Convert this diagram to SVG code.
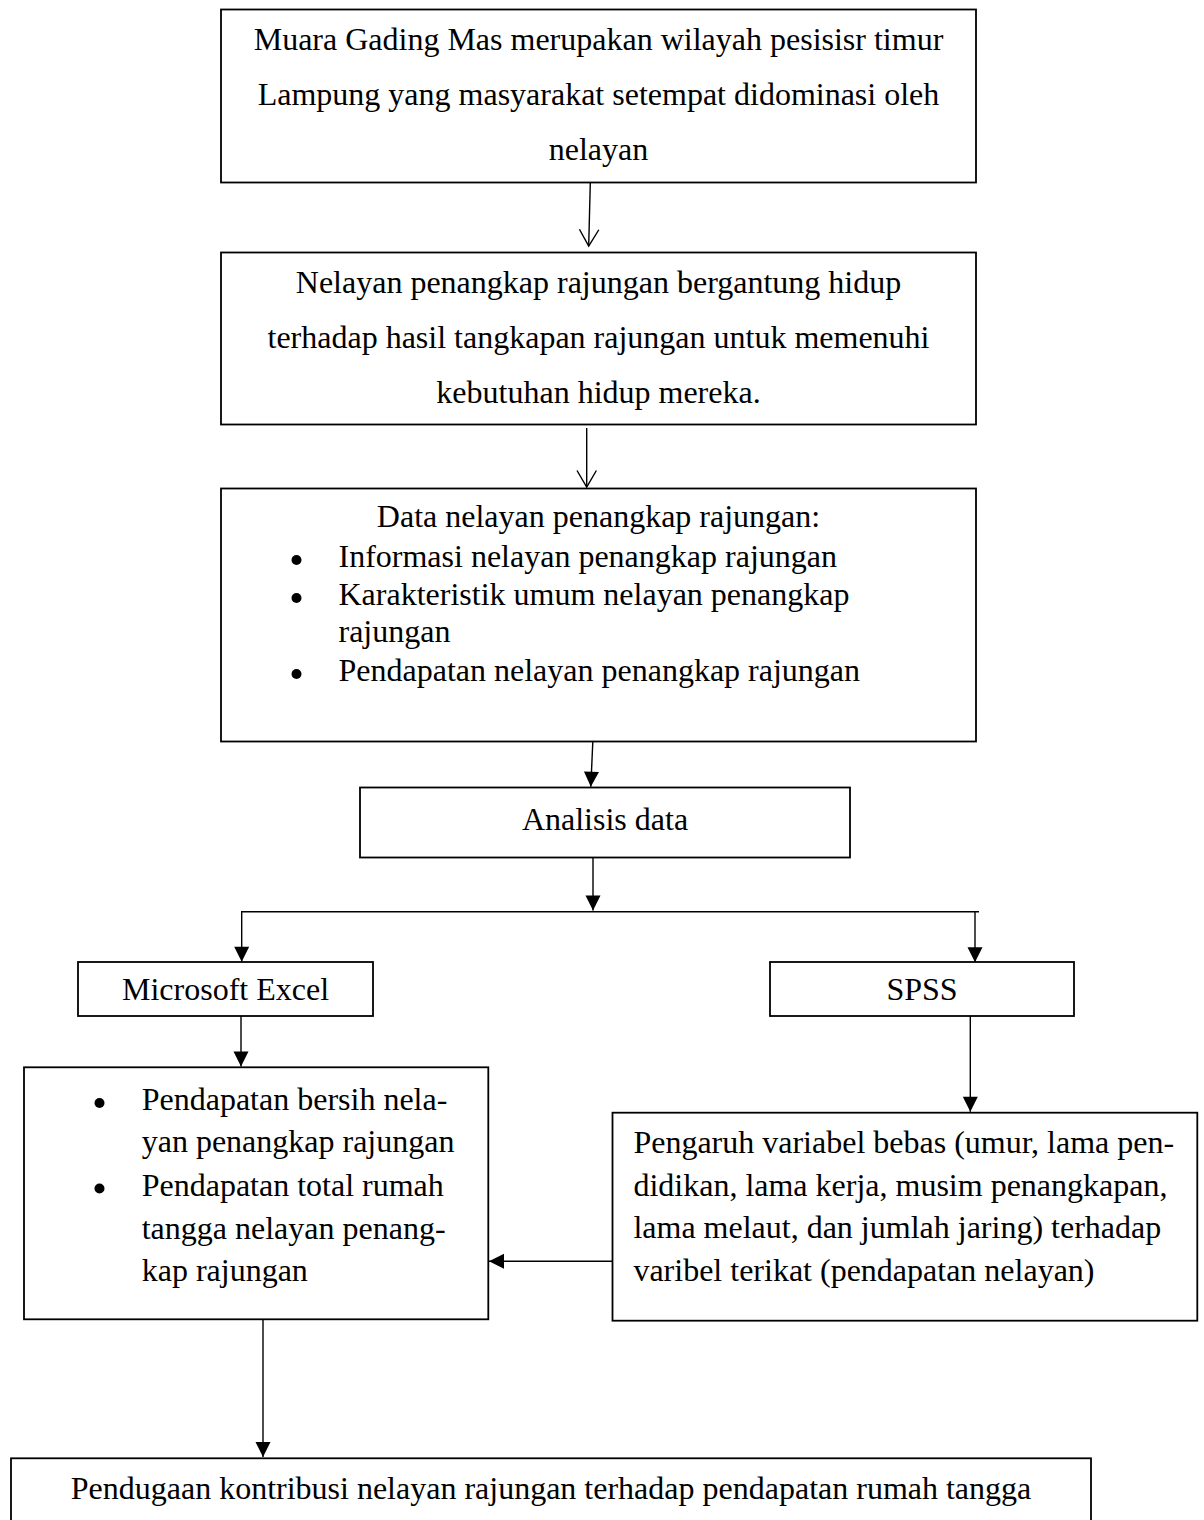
<svg xmlns="http://www.w3.org/2000/svg" width="1204" height="1520" viewBox="0 0 1204 1520">
<style>
.box{fill:#fff;stroke:#000;stroke-width:1.8}
.t{font-family:"Liberation Serif","Times New Roman",serif;font-size:32px;fill:#000}
.m{text-anchor:middle}
.conn line{stroke:#000;stroke-width:1.4;fill:none}
.dot{fill:#000}
</style>
<defs>
<marker id="open" markerUnits="userSpaceOnUse" viewBox="0 0 20 20" markerWidth="20" markerHeight="20" refX="16.5" refY="10" orient="auto" overflow="visible">
<path d="M0,0.3 L16.5,10 L0,19.7" fill="none" stroke="#000" stroke-width="1.4"/>
</marker>
<marker id="fill" markerUnits="userSpaceOnUse" viewBox="0 0 15 15" markerWidth="15" markerHeight="15" refX="15" refY="7.5" orient="auto" overflow="visible">
<path d="M0,0 L15,7.5 L0,15 Z" fill="#000"/>
</marker>
</defs>
<rect width="1204" height="1520" fill="#fff"/>

<g class="conn" id="connectors">
<line x1="590.3" y1="182.7" x2="588.7" y2="246" marker-end="url(#open)"/>
<line x1="586.7" y1="428" x2="586.7" y2="487" marker-end="url(#open)"/>
<line x1="592.8" y1="742" x2="590.8" y2="786.7" marker-end="url(#fill)"/>
<line x1="593" y1="857.5" x2="593" y2="910.5" marker-end="url(#fill)"/>
<line x1="241" y1="911.7" x2="979" y2="911.7"/>
<line x1="241.7" y1="911.7" x2="241.7" y2="961.7" marker-end="url(#fill)"/>
<line x1="975" y1="911.7" x2="975" y2="962.3" marker-end="url(#fill)"/>
<line x1="241" y1="1016" x2="241" y2="1066.5" marker-end="url(#fill)"/>
<line x1="970.3" y1="1016" x2="970.3" y2="1111.7" marker-end="url(#fill)"/>
<line x1="615.7" y1="1261.3" x2="489" y2="1261.3" marker-end="url(#fill)"/>
<line x1="263" y1="1319.5" x2="263" y2="1457" marker-end="url(#fill)"/>
</g>

<g id="node-muara">
<rect class="box" x="221" y="9.5" width="755" height="173"/>
<text class="t m" x="598.5" y="50">Muara Gading Mas merupakan wilayah pesisisr timur</text>
<text class="t m" x="598.5" y="105">Lampung yang masyarakat setempat didominasi oleh</text>
<text class="t m" x="598.5" y="160">nelayan</text>
</g>

<g id="node-nelayan">
<rect class="box" x="221" y="252.5" width="755" height="172"/>
<text class="t m" x="598.5" y="293">Nelayan penangkap rajungan bergantung hidup</text>
<text class="t m" x="598.5" y="348">terhadap hasil tangkapan rajungan untuk memenuhi</text>
<text class="t m" x="598.5" y="403">kebutuhan hidup mereka.</text>
</g>

<g id="node-data">
<rect class="box" x="221" y="488.5" width="755" height="253"/>
<text class="t m" x="598.5" y="527">Data nelayan penangkap rajungan:</text>
<circle class="dot" cx="296.5" cy="560" r="5"/>
<text class="t" x="338.5" y="567">Informasi nelayan penangkap rajungan</text>
<circle class="dot" cx="296.5" cy="598" r="5"/>
<text class="t" x="338.5" y="605">Karakteristik umum nelayan penangkap</text>
<text class="t" x="338.5" y="642">rajungan</text>
<circle class="dot" cx="296.5" cy="674" r="5"/>
<text class="t" x="338.5" y="681">Pendapatan nelayan penangkap rajungan</text>
</g>

<g id="node-analisis">
<rect class="box" x="360" y="787.5" width="490" height="70"/>
<text class="t m" x="605" y="830">Analisis data</text>
</g>

<g id="node-excel">
<rect class="box" x="78" y="962" width="295" height="54"/>
<text class="t m" x="225.5" y="1000">Microsoft Excel</text>
</g>

<g id="node-spss">
<rect class="box" x="770" y="962" width="304" height="54"/>
<text class="t m" x="922" y="1000">SPSS</text>
</g>

<g id="node-pendapatan">
<rect class="box" x="24" y="1067.3" width="464.3" height="252"/>
<circle class="dot" cx="99.5" cy="1103" r="5"/>
<text class="t" x="141.7" y="1110">Pendapatan bersih nela-</text>
<text class="t" x="141.7" y="1152">yan penangkap rajungan</text>
<circle class="dot" cx="99.5" cy="1188.5" r="5"/>
<text class="t" x="141.7" y="1196">Pendapatan total rumah</text>
<text class="t" x="141.7" y="1239">tangga nelayan penang-</text>
<text class="t" x="141.7" y="1281">kap rajungan</text>
</g>

<g id="node-pengaruh">
<rect class="box" x="612.5" y="1112.7" width="584.8" height="208"/>
<text class="t" x="633.4" y="1153">Pengaruh variabel bebas (umur, lama pen-</text>
<text class="t" x="633.4" y="1195.5">didikan, lama kerja, musim penangkapan,</text>
<text class="t" x="633.4" y="1238">lama melaut, dan jumlah jaring) terhadap</text>
<text class="t" x="633.4" y="1280.5">varibel terikat (pendapatan nelayan)</text>
</g>

<g id="node-pendugaan">
<rect class="box" x="11" y="1458.3" width="1080" height="120"/>
<text class="t m" x="551" y="1499">Pendugaan kontribusi nelayan rajungan terhadap pendapatan rumah tangga</text>
</g>
</svg>
